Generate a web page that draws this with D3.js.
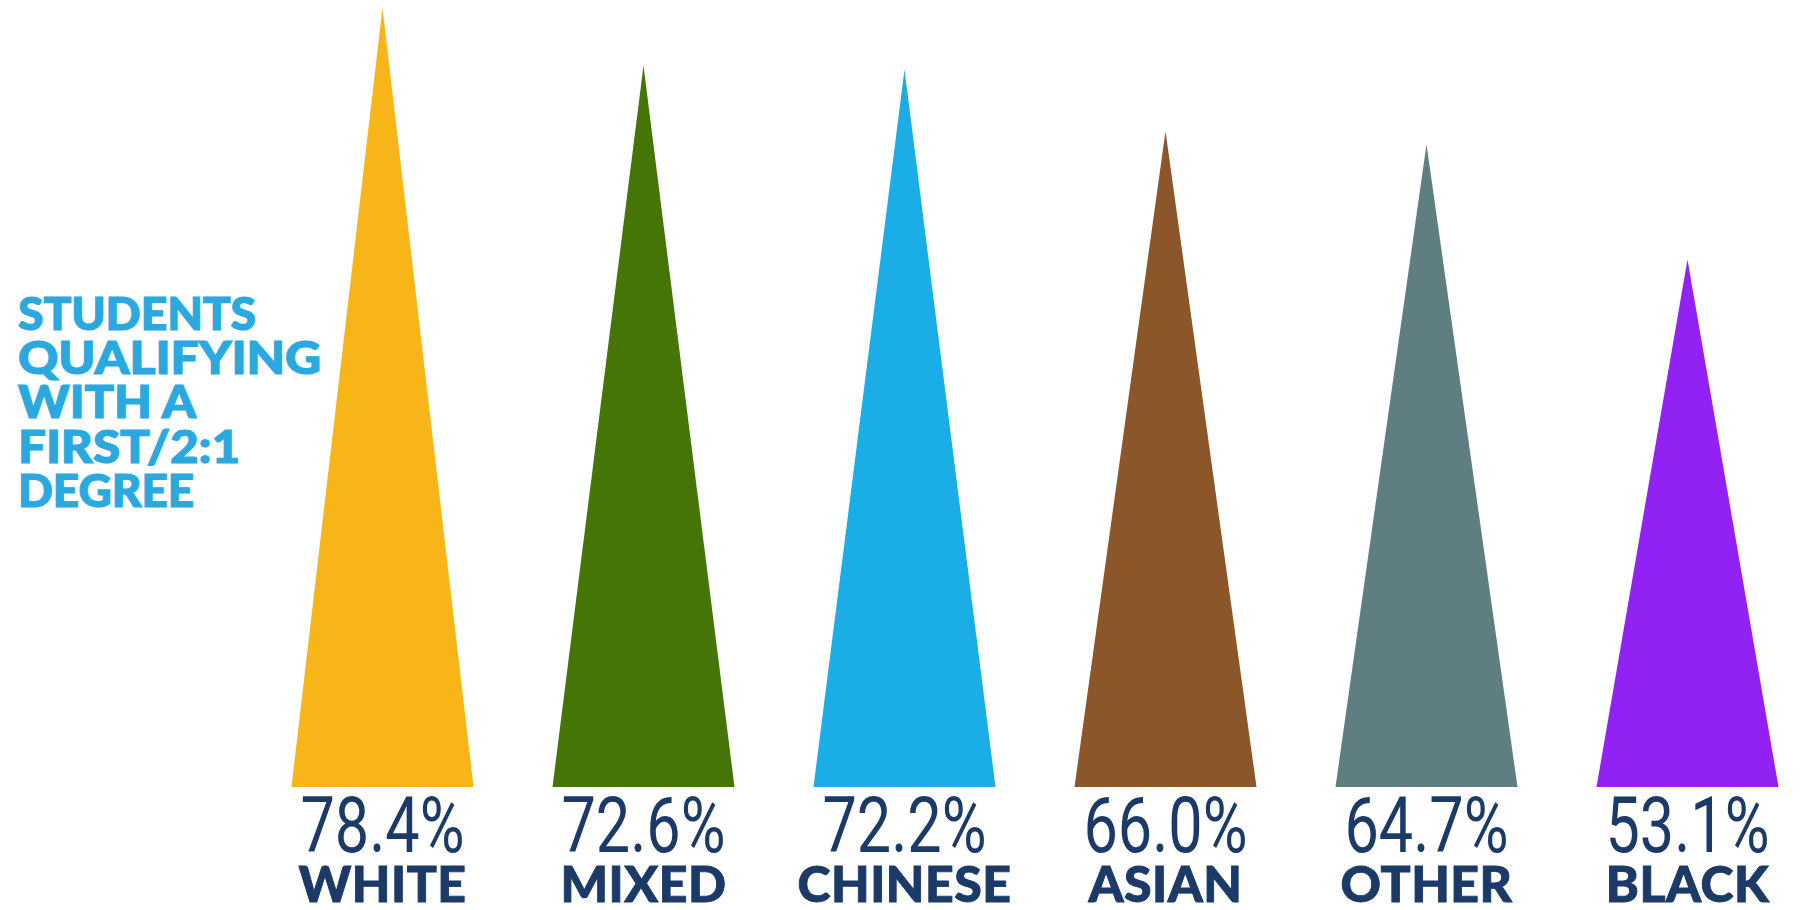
<!DOCTYPE html>
<html>
<head>
<meta charset="utf-8">
<script src="https://cdn.jsdelivr.net/npm/d3@7"></script>
<style>
html,body{margin:0;padding:0;background:#fff;}
svg{display:block;}
</style>
</head>
<body>
<svg id="chart" width="1802" height="910"></svg>
<script>
const categories = ["WHITE", "MIXED", "CHINESE", "ASIAN", "OTHER", "BLACK"];
const values = [78.4, 72.6, 72.2, 66.0, 64.7, 53.1];
const valueLabels = ["78.4%", "72.6%", "72.2%", "66.0%", "64.7%", "53.1%"];
const colors = ["#F8B518", "#447506", "#1AADE6", "#8B5629", "#5F7E82", "#9221F4"];
const titleLines = ["STUDENTS", "QUALIFYING", "WITH A", "FIRST/2:1", "DEGREE"];
const titleWidths = [238, 303, 178, 222, 176];

const svg = d3.select("#chart");

const x = d3.scaleBand().domain(categories).range([252, 1818]).paddingInner(0.3).paddingOuter(0.15);
const y = d3.scaleLinear().domain([0, 78.4]).range([787, 8]);

const baseY = y(0);
const bw = 182;

svg.selectAll("path.tri")
  .data(categories)
  .join("path")
  .attr("class", "tri")
  .attr("fill", (d, i) => colors[i])
  .attr("d", (d, i) => {
    const cx = x(d) + x.bandwidth() / 2;
    return `M${cx - bw / 2},${baseY}L${cx},${y(values[i])}L${cx + bw / 2},${baseY}Z`;
  });

svg.selectAll("text.val")
  .data(categories)
  .join("text")
  .attr("class", "val")
  .attr("x", d => x(d) + x.bandwidth() / 2)
  .attr("y", 852)
  .attr("text-anchor", "middle")
  .attr("fill", "#1B3A68")
  .attr("font-family", "Roboto, 'Liberation Sans', sans-serif")
  .attr("font-weight", 400)
  .attr("font-size", 78)
  .attr("textLength", 164)
  .attr("lengthAdjust", "spacingAndGlyphs")
  .text((d, i) => valueLabels[i]);

svg.selectAll("text.cat")
  .data(categories)
  .join("text")
  .attr("class", "cat")
  .attr("x", d => x(d) + x.bandwidth() / 2)
  .attr("y", 902)
  .attr("text-anchor", "middle")
  .attr("fill", "#1B3A68")
  .attr("stroke", "#1B3A68")
  .attr("stroke-width", 0.9)
  .attr("letter-spacing", 0.5)
  .attr("font-family", "Lato, 'Open Sans', sans-serif")
  .attr("font-weight", 900)
  .attr("font-size", 50)
  .text(d => d);

svg.append("g").selectAll("text")
  .data(titleLines)
  .join("text")
  .attr("x", 18)
  .attr("y", (d, i) => 330 + i * 44.2)
  .attr("fill", "#2AA9E1")
  .attr("stroke", "#2AA9E1")
  .attr("stroke-width", 1.2)
  .attr("font-family", "Lato, 'Open Sans', sans-serif")
  .attr("font-weight", 900)
  .attr("font-size", 45)
  .attr("textLength", (d, i) => titleWidths[i])
  .attr("lengthAdjust", "spacingAndGlyphs")
  .text(d => d);
</script>
</body>
</html>
